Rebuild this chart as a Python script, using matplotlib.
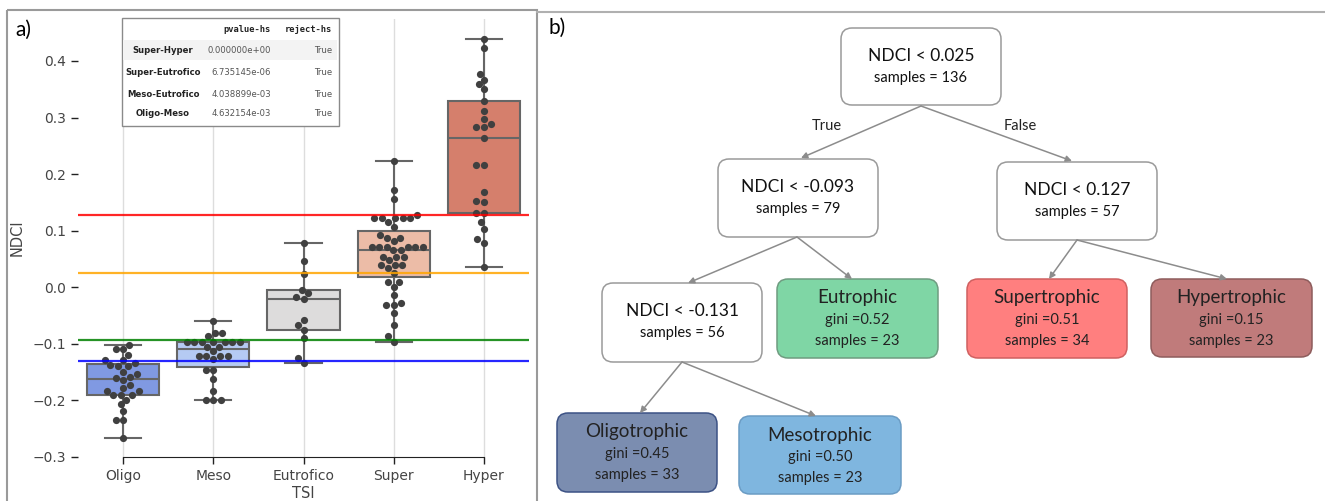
import numpy as np
import pandas as pd
import matplotlib
matplotlib.use("Agg")
import matplotlib.pyplot as plt
from matplotlib.patches import FancyBboxPatch, Rectangle
import seaborn as sns

# ---- data ------------------------------------------------------------------
tsi_order = ["Oligo", "Meso", "Eutrofico", "Super", "Hyper"]

ndci_oligo = [-0.102, -0.110, -0.110, -0.119, -0.128, -0.128, -0.133, -0.137,
              -0.140, -0.140, -0.149, -0.154, -0.158, -0.160, -0.164, -0.172,
              -0.178, -0.184, -0.184, -0.191, -0.191, -0.191, -0.199, -0.207,
              -0.219, -0.235, -0.235, -0.266]
ndci_meso = [-0.059, -0.081, -0.081, -0.087, -0.096, -0.096, -0.096, -0.096,
             -0.096, -0.096, -0.096, -0.105, -0.105, -0.113, -0.122, -0.122,
             -0.122, -0.122, -0.127, -0.146, -0.146, -0.163, -0.184, -0.199,
             -0.199, -0.199]
ndci_eutrofico = [0.078, 0.047, 0.024, -0.005, -0.011, -0.017, -0.021, -0.058,
                  -0.067, -0.076, -0.090, -0.125, -0.133]
ndci_super = [0.223, 0.172, 0.156, 0.128, 0.122, 0.122, 0.122, 0.122, 0.122,
              0.116, 0.107, 0.092, 0.087, 0.087, 0.081, 0.072, 0.072, 0.072,
              0.072, 0.072, 0.072, 0.066, 0.066, 0.054, 0.054, 0.054, 0.048,
              0.039, 0.039, 0.039, 0.034, 0.026, 0.010, 0.010, 0.001, -0.014,
              -0.027, -0.031, -0.031, -0.046, -0.067, -0.087, -0.096]
ndci_hyper = [0.438, 0.422, 0.377, 0.367, 0.359, 0.350, 0.330, 0.312, 0.297,
              0.289, 0.284, 0.284, 0.263, 0.216, 0.216, 0.168, 0.153, 0.151,
              0.131, 0.131, 0.115, 0.103, 0.085, 0.079, 0.036]

thresholds = [0.127, 0.025, -0.093, -0.131]
threshold_colors = ["red", "orange", "green", "blue"]

test_pairs = ["Super-Hyper", "Super-Eutrofico", "Meso-Eutrofico", "Oligo-Meso"]
pvalues = [0.0, 6.735145e-06, 4.038899e-03, 4.632154e-03]
rejects = [True, True, True, True]

# tree nodes: (title, gini, samples)
node_titles = ["NDCI < 0.025", "NDCI < -0.093", "NDCI < 0.127", "NDCI < -0.131",
               "Eutrophic", "Supertrophic", "Hypertrophic",
               "Oligotrophic", "Mesotrophic"]
node_gini = [None, None, None, None, 0.52, 0.51, 0.15, 0.45, 0.50]
node_samples = [136, 79, 57, 56, 23, 34, 23, 33, 23]

# ---- layout (pixels of the 1325x501 canvas) ---------------------------------
W, H = 1325, 501
node_boxes = [(841, 28, 1001, 105), (718, 159, 878, 237), (997, 162, 1157, 240),
              (602, 283, 762, 362), (777, 279, 938, 358), (967, 279, 1127, 358),
              (1151, 279, 1312, 357), (557, 413, 717, 492), (739, 416, 901, 494)]
node_fill = ["white", "white", "white", "white", "#7fd6a5", "#ff7f7f",
             "#c07b7b", "#7b8db0", "#7fb6df"]
node_edge = ["#9a9a9a", "#9a9a9a", "#9a9a9a", "#9a9a9a", "#6f9c80", "#d06060",
             "#8e5c5c", "#3c5285", "#6b9cc4"]
edges = [((921, 106), (801, 158)), ((921, 106), (1072, 161)),
         ((797, 237), (688, 283)), ((797, 237), (852, 279)),
         ((1077, 240), (1049, 279)), ((1077, 240), (1227, 279)),
         ((682, 362), (640, 413)), ((682, 362), (816, 416))]

tree_font = "Lato"


def px_rect(x0, y0, x1, y1):
    return [x0 / W, 1 - y1 / H, (x1 - x0) / W, (y1 - y0) / H]


fig = plt.figure(figsize=(W / 100, H / 100), dpi=100)

# ---- a) box + swarm ---------------------------------------------------------
groups = [ndci_oligo, ndci_meso, ndci_eutrofico, ndci_super, ndci_hyper]
df = pd.DataFrame({
    "TSI": np.concatenate([[n] * len(g) for n, g in zip(tsi_order, groups)]),
    "NDCI": np.concatenate(groups),
})

ax = fig.add_axes(px_rect(78, 18.5, 529, 457))
for i in range(len(tsi_order)):
    ax.axvline(i, color="#dddddd", lw=1, zorder=0)

sns.boxplot(data=df, x="TSI", y="NDCI", order=tsi_order, hue="TSI",
            hue_order=tsi_order, palette="coolwarm", legend=False,
            showfliers=False, whis=(0, 100), width=0.8, linecolor="0.4",
            linewidth=1.5, ax=ax)
sns.swarmplot(data=df, x="TSI", y="NDCI", order=tsi_order, color=".25",
              size=5.2, ax=ax)

for t, c in zip(thresholds, threshold_colors):
    ax.axhline(t, color=c, lw=1.6, alpha=0.85, zorder=5)

ax.set_xlim(-0.5, 4.5)
ax.set_ylim(-0.3, 0.475)
ax.set_yticks(np.arange(-0.3, 0.41, 0.1))
for s in ["top", "right", "left"]:
    ax.spines[s].set_visible(False)
ax.spines["bottom"].set_bounds(0, 4)
ax.spines["bottom"].set_color("#222222")
ax.tick_params(axis="both", labelsize=10, colors="#222222", labelcolor="#444444",
               length=5, width=1)
ax.set_xlabel("TSI", fontsize=10.5, color="#444444", labelpad=2)
ax.set_ylabel("NDCI", fontsize=10.5, color="#444444", labelpad=6)
ax.patch.set_alpha(0)

# ---- overlay in pixel coords ------------------------------------------------
ov = fig.add_axes([0, 0, 1, 1], zorder=10)
ov.set_xlim(0, W)
ov.set_ylim(H, 0)
ov.axis("off")
ov.patch.set_visible(False)

# panel frames
ov.add_patch(Rectangle((7, 10), 530, 500, fill=False, ec="#9a9a9a", lw=1.5))
ov.plot([537, W], [12, 12], color="#b0b0b0", lw=1.5)
ov.text(15, 30, "a)", fontsize=15, family=tree_font, va="center", ha="left")
ov.text(548, 28, "b)", fontsize=15, family=tree_font, va="center", ha="left")

# p-value table
ov.add_patch(Rectangle((122, 18), 217, 108, fc="white", ec="#8a8a8a", lw=1))
ov.add_patch(Rectangle((123, 40), 214, 20, fc="#f3f3f3", ec="none"))
ov.text(271, 29, "pvalue-hs", fontsize=6.3, family="DejaVu Sans Mono",
        weight="bold", ha="right", va="center", color="#222222")
ov.text(332, 29, "reject-hs", fontsize=6.3, family="DejaVu Sans Mono",
        weight="bold", ha="right", va="center", color="#222222")
row_y = [50, 72, 94, 113]
for y, name, p, r in zip(row_y, test_pairs, pvalues, rejects):
    ov.text(163, y, name, fontsize=6.1, weight="bold", ha="center", va="center",
            color="#222222")
    ov.text(271, y, f"{p:e}", fontsize=6.1, ha="right", va="center", color="#555555")
    ov.text(332, y, str(r), fontsize=6.1, ha="right", va="center", color="#555555")

# decision tree
for (x0, y0, x1, y1), fc, ec in zip(node_boxes, node_fill, node_edge):
    ov.add_patch(FancyBboxPatch((x0, y0), x1 - x0, y1 - y0,
                                boxstyle="round,pad=0,rounding_size=11",
                                fc=fc, ec=ec, lw=1.1))

for (x0, y0, x1, y1), title, gini, n in zip(node_boxes, node_titles,
                                            node_gini, node_samples):
    cx = (x0 + x1) / 2
    if gini is None:
        ov.text(cx, y0 + 28, title, fontsize=12.5, family=tree_font,
                ha="center", va="center", color="#111111")
        ov.text(cx, y0 + 50, f"samples = {n}", fontsize=10.5, family=tree_font,
                ha="center", va="center", color="#111111")
    else:
        ov.text(cx, y0 + 19, title, fontsize=13.5, family=tree_font,
                ha="center", va="center", color="#222222")
        ov.text(cx, y0 + 41, f"gini ={gini:.2f}", fontsize=10.5, family=tree_font,
                ha="center", va="center", color="#222222")
        ov.text(cx, y0 + 62, f"samples = {n}", fontsize=10.5, family=tree_font,
                ha="center", va="center", color="#222222")

for start, end in edges:
    ov.annotate("", xy=end, xytext=start,
                arrowprops=dict(arrowstyle="-|>", color="#8c8c8c", lw=1.1,
                                mutation_scale=9, shrinkA=0, shrinkB=0))

ov.text(827, 126, "True", fontsize=10.5, family=tree_font, ha="center",
        va="center", color="#222222")
ov.text(1020, 126, "False", fontsize=10.5, family=tree_font, ha="center",
        va="center", color="#222222")

fig.savefig("out.png", dpi=100, facecolor="white")
